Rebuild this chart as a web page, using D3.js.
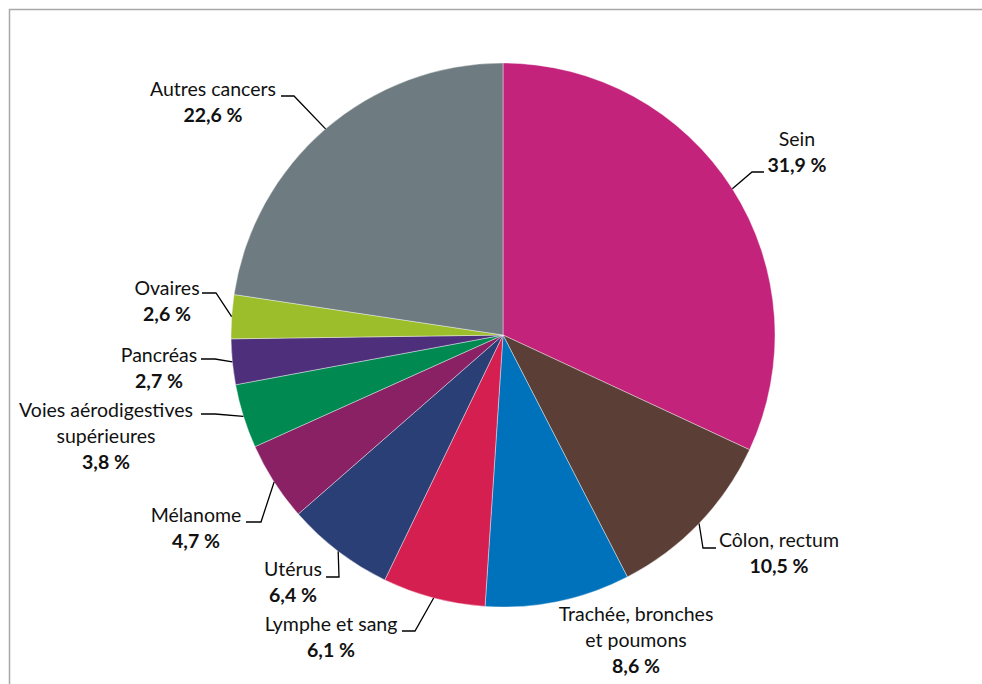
<!DOCTYPE html>
<html>
<head>
<meta charset="utf-8">
<script src="https://cdn.jsdelivr.net/npm/d3@7/dist/d3.min.js"></script>
<style>
  html, body { margin: 0; padding: 0; background: #fff; }
  svg { display: block; }
  text { font-family: Lato, "Open Sans", sans-serif; fill: #111; }
</style>
</head>
<body>
<svg id="chart" width="982" height="684"></svg>
<script>
// Cancer sites and their share of cases (%), clockwise from 12 o'clock
const categories = [
  "Sein", "Côlon, rectum", "Trachée, bronches et poumons", "Lymphe et sang",
  "Utérus", "Mélanome", "Voies aérodigestives supérieures", "Pancréas",
  "Ovaires", "Autres cancers"
];
const values = [31.9, 10.5, 8.6, 6.1, 6.4, 4.7, 3.8, 2.7, 2.6, 22.6];
const colors = [
  "#C4237C", "#5B3F36", "#0072BB", "#D61F51", "#2B3F77",
  "#8A2165", "#008A52", "#4E2F7C", "#9BBE2A", "#6E7B80"
];
// Label lines as drawn (category name split over lines)
const labelLines = [
  ["Sein"], ["Côlon, rectum"], ["Trachée, bronches", "et poumons"], ["Lymphe et sang"],
  ["Utérus"], ["Mélanome"], ["Voies aérodigestives", "supérieures"], ["Pancréas"],
  ["Ovaires"], ["Autres cancers"]
];

// Label placement: text centre x, first baseline y, leader path points (elbow, end)
const labelLayout = [
  { x: 797, y: 146, leader: [[752, 172], [764, 172]] },
  { x: 779, y: 547, leader: [[703, 548], [716, 548]] },
  { x: 636, y: 621, leader: null },
  { x: 331, y: 631, leader: [[415, 631], [402, 631]] },
  { x: 293, y: 576, leader: [[339, 577], [326, 577]] },
  { x: 196, y: 522, leader: [[261, 522], [246, 522]] },
  { x: 106, y: 417, leader: [[215, 414], [201, 414]] },
  { x: 159, y: 362, leader: [[215, 359], [201, 359]] },
  { x: 167, y: 295, leader: [[216, 293], [202, 293]] },
  { x: 213, y: 96,  leader: [[294, 96], [281, 96]] }
];

const fmt = v => d3.format(".1f")(v).replace(".", ",") + " %";

const svg = d3.select("#chart");
const cx = 503, cy = 335, radius = 272, lineH = 26;

// Outer frame (extends past the right and bottom edges)
svg.append("rect")
  .attr("x", 9.5).attr("y", 9.5)
  .attr("width", 1200).attr("height", 1200)
  .attr("fill", "none").attr("stroke", "#a8a8a8").attr("stroke-width", 1.5);

const data = categories.map((c, i) => ({ name: c, value: values[i], i }));

const pie = d3.pie().value(d => d.value).sort(null);
const arcs = pie(data);
const arc = d3.arc().innerRadius(0).outerRadius(radius);

const g = svg.append("g").attr("transform", `translate(${cx},${cy})`);

g.selectAll("path.slice")
  .data(arcs)
  .join("path")
  .attr("class", "slice")
  .attr("d", arc)
  .attr("fill", d => colors[d.data.i])
  .attr("stroke", "#ffffff")
  .attr("stroke-width", 0.4);

// Leader lines start on the rim at each slice's mid angle
arcs.forEach(a => {
  const lay = labelLayout[a.data.i];
  if (!lay.leader) return;
  const mid = (a.startAngle + a.endAngle) / 2;
  const p0 = [cx + radius * Math.sin(mid), cy - radius * Math.cos(mid)];
  const pts = [p0, ...lay.leader];
  svg.append("path")
    .attr("d", d3.line()(pts))
    .attr("fill", "none")
    .attr("stroke", "#000")
    .attr("stroke-width", 1.3);
});

// Labels: name lines then bold percentage
arcs.forEach(a => {
  const i = a.data.i;
  const lay = labelLayout[i];
  const t = svg.append("text")
    .attr("text-anchor", "middle")
    .style("font-size", "19.5px");
  labelLines[i].forEach((ln, k) => {
    t.append("tspan").attr("x", lay.x).attr("y", lay.y + k * lineH).text(ln);
  });
  t.append("tspan")
    .attr("x", lay.x)
    .attr("y", lay.y + labelLines[i].length * lineH)
    .style("font-weight", "bold")
    .text(fmt(a.data.value));
});
</script>
</body>
</html>
